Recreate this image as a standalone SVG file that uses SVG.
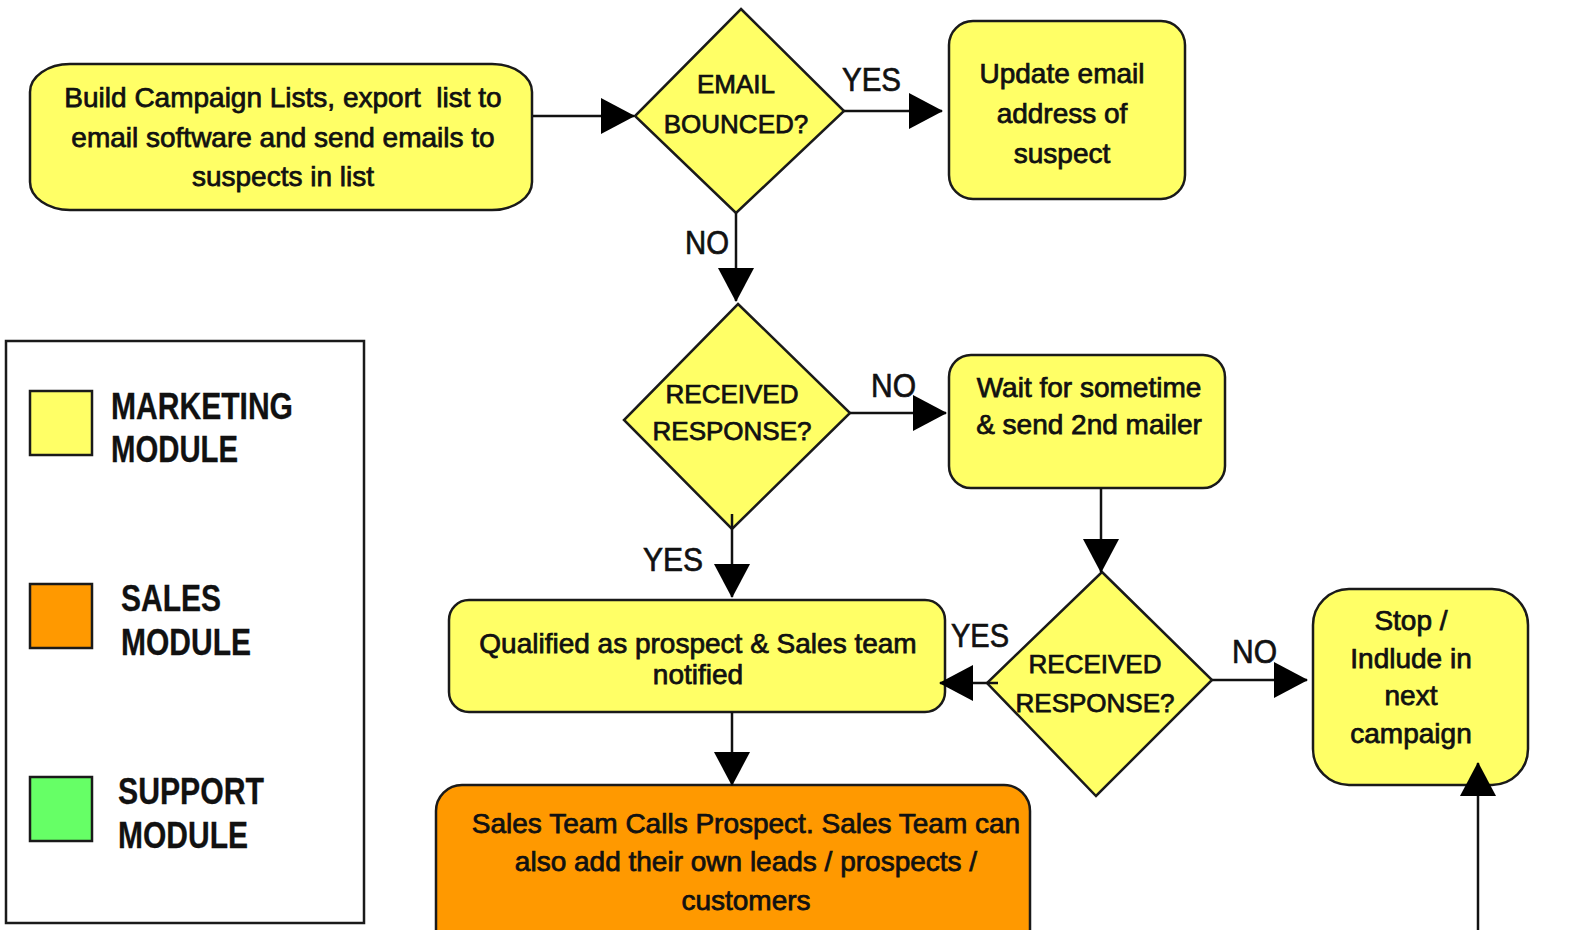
<svg xmlns="http://www.w3.org/2000/svg" width="1575" height="930" viewBox="0 0 1575 930">
  <style>
    .box { stroke: #1a1a1a; stroke-width: 2.5; }
    .mkt { fill: #FFFF66; }
    .sales { fill: #FF9900; }
    .support { fill: #66FF66; }
    .t { font-family: "Liberation Sans", Arial, sans-serif; font-size: 28px; fill: #111; stroke: #111; stroke-width: 0.75; text-anchor: middle; }
    .d { font-size: 26px; }
    .lbl { font-family: "Liberation Sans", Arial, sans-serif; font-size: 34px; fill: #111; stroke: #111; stroke-width: 0.7; }
    .leg { font-family: "Liberation Sans", Arial, sans-serif; font-size: 36px; font-weight: bold; fill: #111; stroke: #111; stroke-width: 0.3; }
    .wire { stroke: #111; stroke-width: 2.5; fill: none; }
  </style>
  <defs>
    <marker id="arrow" markerUnits="userSpaceOnUse" markerWidth="34" markerHeight="36" refX="33" refY="18" orient="auto">
      <path d="M0,0 L34,18 L0,36 Z" fill="#000"/>
    </marker>
  </defs>

  <rect width="1575" height="930" fill="#fff"/>

  <!-- build campaign lists -->
  <g id="build-lists">
    <rect class="box mkt" x="30" y="64" width="502" height="146" rx="40" ry="28"/>
    <text class="t" xml:space="preserve" x="283" y="107">Build Campaign Lists, export  list to</text>
    <text class="t" x="283" y="147">email software and send emails to</text>
    <text class="t" x="283" y="186">suspects in list</text>
  </g>

  <!-- email bounced decision -->
  <g id="email-bounced">
    <polygon class="box mkt" points="741,9 844,111 736,213 635,116"/>
    <text class="t d" x="736" y="93">EMAIL</text>
    <text class="t d" x="736" y="133">BOUNCED?</text>
  </g>

  <!-- update address -->
  <g id="update-email">
    <rect class="box mkt" x="949" y="21" width="236" height="178" rx="24"/>
    <text class="t" x="1062" y="83">Update email</text>
    <text class="t" x="1062" y="123">address of</text>
    <text class="t" x="1062" y="163">suspect</text>
  </g>

  <!-- first response decision -->
  <g id="received-response-1">
    <polygon class="box mkt" points="738,304 850,413 732,529 624,420"/>
    <text class="t d" x="732" y="403">RECEIVED</text>
    <text class="t d" x="732" y="440">RESPONSE?</text>
  </g>

  <!-- second mailer -->
  <g id="second-mailer">
    <rect class="box mkt" x="949" y="355" width="276" height="133" rx="22"/>
    <text class="t" x="1089" y="397">Wait for sometime</text>
    <text class="t" x="1089" y="434">&amp; send 2nd mailer</text>
  </g>

  <!-- second response decision -->
  <g id="received-response-2">
    <polygon class="box mkt" points="1102,572 1212,680 1096,796 987,683"/>
    <text class="t d" x="1095" y="673">RECEIVED</text>
    <text class="t d" x="1095" y="712">RESPONSE?</text>
  </g>

  <!-- qualified prospect -->
  <g id="qualified">
    <rect class="box mkt" x="449" y="600" width="496" height="112" rx="20"/>
    <text class="t" x="698" y="653">Qualified as prospect &amp; Sales team</text>
    <text class="t" x="698" y="684">notified</text>
  </g>

  <!-- stop or next campaign -->
  <g id="stop">
    <rect class="box mkt" x="1313" y="589" width="215" height="196" rx="36"/>
    <text class="t" x="1411" y="630">Stop /</text>
    <text class="t" x="1411" y="668">Indlude in</text>
    <text class="t" x="1411" y="705">next</text>
    <text class="t" x="1411" y="743">campaign</text>
  </g>

  <!-- sales call -->
  <g id="sales-call">
    <rect class="box sales" x="436" y="785" width="594" height="180" rx="26"/>
    <text class="t" x="746" y="833">Sales Team Calls Prospect. Sales Team can</text>
    <text class="t" x="746" y="871">also add their own leads / prospects /</text>
    <text class="t" x="746" y="910">customers</text>
  </g>

  <!-- legend -->
  <g id="legend">
    <rect x="6" y="341" width="358" height="582" fill="#fff" stroke="#1a1a1a" stroke-width="2.5"/>
    <rect class="box mkt" x="30" y="391" width="62" height="64"/>
    <rect class="box sales" x="30" y="584" width="62" height="64"/>
    <rect class="box support" x="30" y="777" width="62" height="64"/>
    <text class="leg" x="111" y="419" textLength="182" lengthAdjust="spacingAndGlyphs">MARKETING</text>
    <text class="leg" x="111" y="462" textLength="127" lengthAdjust="spacingAndGlyphs">MODULE</text>
    <text class="leg" x="121" y="611" textLength="100" lengthAdjust="spacingAndGlyphs">SALES</text>
    <text class="leg" x="121" y="655" textLength="130" lengthAdjust="spacingAndGlyphs">MODULE</text>
    <text class="leg" x="118" y="804" textLength="146" lengthAdjust="spacingAndGlyphs">SUPPORT</text>
    <text class="leg" x="118" y="848" textLength="130" lengthAdjust="spacingAndGlyphs">MODULE</text>
  </g>

  <!-- connectors, drawn over the shapes -->
  <g id="connectors">
    <line class="wire" x1="533" y1="116" x2="634" y2="116" marker-end="url(#arrow)"/>
    <line class="wire" x1="844" y1="111" x2="942" y2="111" marker-end="url(#arrow)"/>
    <line class="wire" x1="736" y1="213" x2="736" y2="301" marker-end="url(#arrow)"/>
    <line class="wire" x1="850" y1="413" x2="946" y2="413" marker-end="url(#arrow)"/>
    <line class="wire" x1="732" y1="514" x2="732" y2="597" marker-end="url(#arrow)"/>
    <line class="wire" x1="1101" y1="488" x2="1101" y2="572" marker-end="url(#arrow)"/>
    <line class="wire" x1="998" y1="683" x2="940" y2="683" marker-end="url(#arrow)"/>
    <line class="wire" x1="1212" y1="680" x2="1307" y2="680" marker-end="url(#arrow)"/>
    <line class="wire" x1="732" y1="712" x2="732" y2="785" marker-end="url(#arrow)"/>
    <line class="wire" x1="1478" y1="930" x2="1478" y2="763" marker-end="url(#arrow)"/>
    <text class="lbl" x="842" y="91" textLength="59" lengthAdjust="spacingAndGlyphs">YES</text>
    <text class="lbl" x="685" y="254" textLength="44" lengthAdjust="spacingAndGlyphs">NO</text>
    <text class="lbl" x="871" y="397" textLength="45" lengthAdjust="spacingAndGlyphs">NO</text>
    <text class="lbl" x="643" y="571" textLength="60" lengthAdjust="spacingAndGlyphs">YES</text>
    <text class="lbl" x="951" y="647" textLength="58" lengthAdjust="spacingAndGlyphs">YES</text>
    <text class="lbl" x="1232" y="663" textLength="45" lengthAdjust="spacingAndGlyphs">NO</text>
  </g>
</svg>
